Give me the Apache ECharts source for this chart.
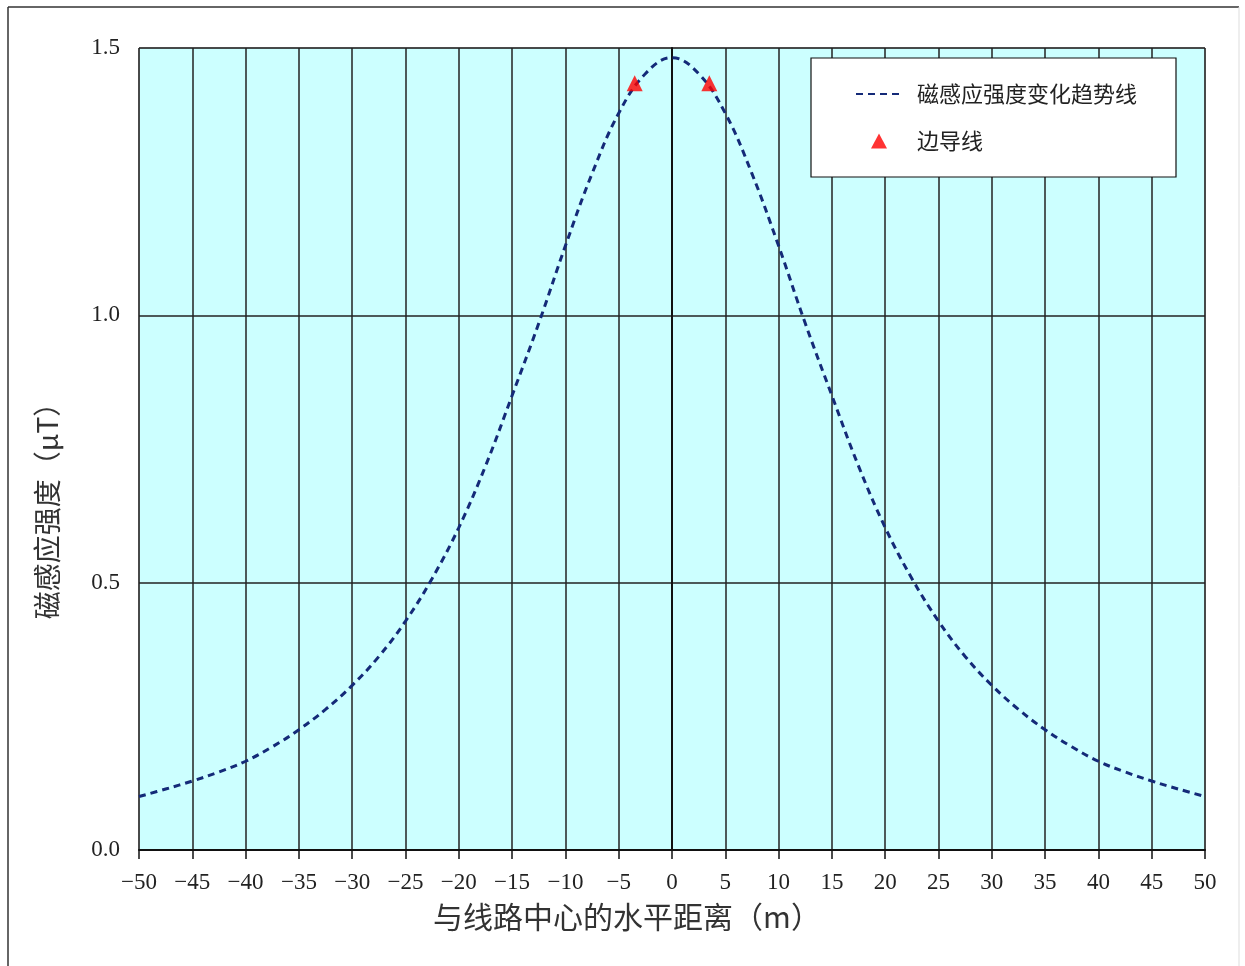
<!DOCTYPE html>
<html>
<head>
<meta charset="utf-8">
<script src="https://cdn.jsdelivr.net/npm/echarts@6/dist/echarts.min.js"></script>
<style>
html,body{margin:0;padding:0;background:#fff;}
#chart{width:1245px;height:966px;}
</style>
</head>
<body>
<div id="chart"></div>
<script>
// Distance from line centre (m)
const distances = [-50,-47.5,-45,-42.5,-40,-37.5,-35,-32.5,-30,-27.5,-25,-22.5,-20,-17.5,-15,-12.5,-10,-7.5,-5,-2.5,0,
  2.5,5,7.5,10,12.5,15,17.5,20,22.5,25,27.5,30,32.5,35,37.5,40,42.5,45,47.5,50];
// Magnetic induction (μT)
const fieldValues = [0.100,0.114,0.129,0.146,0.166,0.193,0.225,0.263,0.308,0.362,0.428,0.508,0.603,0.718,0.850,0.985,1.130,1.265,1.378,1.452,1.482,
  1.452,1.378,1.265,1.130,0.985,0.850,0.718,0.603,0.508,0.428,0.362,0.308,0.263,0.225,0.193,0.166,0.146,0.129,0.114,0.100];
// Edge conductors
const conductorX = [-3.5, 3.5];
const conductorY = [1.434, 1.434];
const xTicks = {min: -50, max: 50, interval: 5};
const yTicks = {min: 0, max: 1.5, interval: 0.5};
const seriesNames = ['磁感应强度变化趋势线', '边导线'];
const xName = '与线路中心的水平距离（m）';
const yName = '磁感应强度（μT）';

const chart = echarts.init(document.getElementById('chart'));
const lineData = distances.map((d, i) => [d, fieldValues[i]]);
const scatterData = conductorX.map((d, i) => [d, conductorY[i]]);
const legendText = {fontFamily: 'Noto Sans CJK SC', fontSize: 22, color: '#222'};

chart.setOption({
  animation: false,
  backgroundColor: '#fff',
  graphic: [
    {type: 'line', shape: {x1: 8, y1: 7, x2: 8, y2: 966}, style: {stroke: '#333', lineWidth: 1.5}, z: 0},
    {type: 'line', shape: {x1: 8, y1: 7, x2: 1239, y2: 7}, style: {stroke: '#333', lineWidth: 1.5}, z: 0},
    {type: 'line', shape: {x1: 1239, y1: 7, x2: 1239, y2: 966}, style: {stroke: '#ddd', lineWidth: 1}, z: 0},
    {type: 'rect', shape: {x: 811, y: 58, width: 365, height: 119}, style: {fill: '#fff', stroke: '#111', lineWidth: 1.2}, z: 50}
  ],
  grid: {
    left: 139, right: 40, top: 48, bottom: 116,
    show: true, backgroundColor: '#CCFFFF', borderColor: '#888', borderWidth: 1
  },
  legend: [
    {
      left: 850, top: 78,
      itemWidth: 48, itemHeight: 15,
      z: 60,
      textStyle: Object.assign({padding: [0, 0, 0, 8]}, legendText),
      data: [{name: seriesNames[0], itemStyle: {opacity: 0}}]
    },
    {
      left: 866, top: 125,
      itemWidth: 16, itemHeight: 15,
      z: 60,
      textStyle: Object.assign({padding: [0, 0, 0, 25]}, legendText),
      data: [{name: seriesNames[1], icon: 'triangle'}]
    }
  ],
  xAxis: {
    type: 'value',
    min: xTicks.min, max: xTicks.max, interval: xTicks.interval,
    name: xName,
    nameLocation: 'middle',
    nameGap: 52,
    nameTextStyle: {fontFamily: 'Noto Sans CJK SC', fontSize: 30, color: '#333', padding: [0, 90, 0, 0]},
    axisLine: {show: true, lineStyle: {color: '#111', width: 2}},
    axisTick: {show: true, inside: false, length: 9, lineStyle: {color: '#111', width: 1.5}},
    axisLabel: {
      margin: 21,
      fontFamily: 'Liberation Serif', fontSize: 23, color: '#222',
      formatter: v => String(v).replace('-', '\u2212')
    },
    splitLine: {show: true, lineStyle: {color: '#222', width: 1.5}}
  },
  yAxis: {
    type: 'value',
    min: yTicks.min, max: yTicks.max, interval: yTicks.interval,
    name: yName,
    nameLocation: 'middle',
    nameGap: 78,
    nameRotate: 90,
    nameTextStyle: {fontFamily: 'Noto Sans CJK SC', fontSize: 28, color: '#333', padding: [0, 110, 0, 0]},
    axisLine: {show: true, lineStyle: {color: '#111', width: 2}},
    axisTick: {show: false},
    axisLabel: {
      margin: 19,
      fontFamily: 'Liberation Serif', fontSize: 23, color: '#222',
      formatter: v => v.toFixed(1)
    },
    splitLine: {show: true, lineStyle: {color: '#222', width: 1.5}}
  },
  series: [
    {
      name: seriesNames[0],
      type: 'line',
      data: lineData,
      smooth: 0.4,
      symbol: 'none',
      showSymbol: false,
      lineStyle: {color: '#142a78', width: 3, type: [7, 5]},
      itemStyle: {color: '#142a78'},
      z: 10
    },
    {
      name: seriesNames[1],
      type: 'scatter',
      data: scatterData,
      symbol: 'triangle',
      symbolSize: 16,
      itemStyle: {color: '#ff0000'},
      z: 11
    }
  ]
});
</script>
</body>
</html>
